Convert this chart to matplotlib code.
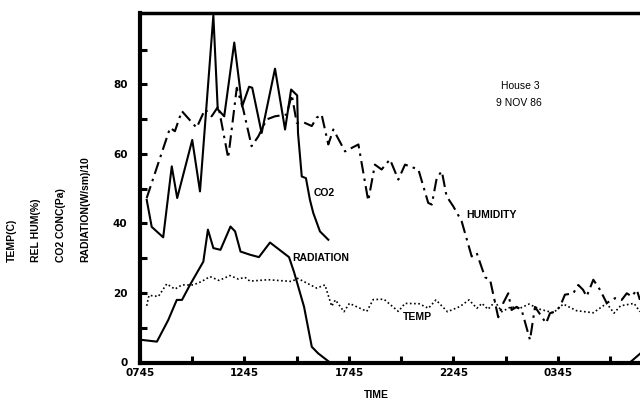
import matplotlib
matplotlib.use("Agg")
import matplotlib.pyplot as plt
import numpy as np

plt.rcParams['font.family'] = ['Liberation Sans', 'DejaVu Sans']

# hours after 07:45
co2_t = [0.32, 0.56, 1.11, 1.52, 1.78, 2.50, 2.87, 3.51, 3.72, 4.03, 4.51, 4.89,
         5.22, 5.37, 5.82, 6.46, 6.94, 7.23, 7.52, 7.56, 7.74, 7.94, 8.13, 8.29,
         8.61, 9.01]
co2_v = [46.8, 39, 36, 56.4, 47.3, 64, 49.2, 99.8, 72.8, 70.8, 92, 73.7,
         79.3, 79, 66, 84.5, 67, 78.5, 76.8, 66, 53.5, 53, 46.8, 43,
         37.7, 35.3]

hum_t = [0.32, 1.44, 1.67, 2.0, 2.71, 3.11, 3.43, 3.75, 4.22, 4.63, 4.94, 5.34,
         5.66, 6.06, 6.46, 7.02, 7.26, 7.50, 7.85, 8.22, 8.45, 8.69, 9.01, 9.25,
         9.81, 10.45, 10.92, 11.24, 11.56, 11.96, 12.36, 12.68, 13.32, 13.79,
         13.96, 14.2, 14.44, 14.67, 14.99, 15.39, 15.87, 16.11, 16.51, 16.75,
         17.14, 17.38, 17.62, 17.78, 18.02, 18.26, 18.66, 18.9, 19.43, 19.62,
         19.86, 20.1, 20.33, 20.73, 20.97, 21.2, 21.37, 21.69, 22.01, 22.33,
         22.73, 23.05, 23.29, 23.53, 23.77, 23.92]
hum_v = [47.3, 67.5, 66.5, 72.3, 67.5, 72.8, 70.8, 73.7, 58.8, 79, 72.8, 62.2,
         65, 69.9, 70.8, 71.3, 77, 68.9, 69, 68, 70.4, 71.3, 62.7, 67,
         60.7, 62.7, 46.5, 56.9, 55.5, 58.4, 52.6, 56.9, 55.5, 45.9,
         45.4, 53.1, 55, 47.8, 44.9, 40.6, 30.5, 31.5, 24.5, 23.8,
         13, 17.1, 19.9, 15.1, 16, 15.1, 6.5, 16, 11.3, 14.2,
         14.6, 16.1, 19.5, 19.9, 22.3, 20.9, 19, 23.8, 20.9, 17.1,
         18.5, 18, 19.9, 19, 20.9, 18]

rad_t = [0.08, 0.81, 1.35, 1.76, 2.01, 2.39, 3.03, 3.25, 3.51, 3.85, 4.33, 4.55,
         4.81, 5.26, 5.69, 6.22, 7.13, 7.37, 7.85, 8.22, 8.53, 9.09, 23.44, 23.92]
rad_v = [6.5, 6, 12.2, 18, 18, 22.3, 29, 38.2, 32.9, 32.4, 39.1, 37.7,
         31.9, 31, 30.3, 34.5, 30.3, 26, 16, 4.5, 2.6, 0, 0, 2.5]

temp_t = [0.32, 0.43, 0.88, 1.28, 1.67, 2.0, 2.55, 2.95, 3.35, 3.78, 4.31, 4.70,
          5.02, 5.26, 6.14, 7.26, 7.54, 8.45, 8.85, 9.17, 9.35, 9.76, 10.02,
          10.85, 11.16, 11.67, 12.36, 12.68, 13.35, 13.8, 14.16, 14.71, 15.31,
          15.74, 16.12, 16.36, 16.65, 16.99, 17.31, 17.75, 18.18, 18.61, 19.14,
          19.78, 20.25, 20.89, 21.69, 22.33, 22.68, 22.99, 23.64, 23.92]
temp_v = [16.3, 19.3, 19, 22.6, 21.1, 22.3, 22.3, 23.3, 24.7, 23.6, 25, 24,
          24.5, 23.4, 23.8, 23.3, 24.2, 21.4, 22.3, 16.2, 18, 14.6, 17,
          14.7, 18.1, 18.2, 14.7, 17, 16.9, 15.6, 18, 14.6, 16.1,
          18, 15.6, 17, 15.3, 17.5, 14.6, 16, 15.6, 16.8, 15.3,
          14.3, 16.8, 14.9, 14.3, 17, 14.2, 16.3, 17, 14.6]

x_ticks = [0, 2.5, 5, 7.5, 10, 12.5, 15, 17.5, 20, 22.5]
x_labels = ['0745', '', '1245', '', '1745', '', '2245', '', '0345', '']
y_ticks = [0, 10, 20, 30, 40, 50, 60, 70, 80, 90]
y_labels = ['0', '', '20', '', '40', '', '60', '', '80', '']

W, H = 640, 401
fig = plt.figure(figsize=(6.4, 4.01), dpi=100)
ax = fig.add_axes([140 / W, (H - 362.5) / H, 501.6 / W, 349.5 / H])

ax.plot(co2_t, co2_v, color='black', lw=1.5, clip_on=False)
ax.plot(hum_t, hum_v, color='black', lw=1.5, linestyle=(0, (6, 2.5, 1.2, 2.5)))
ax.plot(rad_t, rad_v, color='black', lw=1.5)
ax.plot(temp_t, temp_v, color='black', lw=1.2, linestyle=(0, (1, 1.5)))

ax.set_xlim(0, 24)
ax.set_ylim(0, 100.5)
ax.set_xticks(x_ticks)
ax.set_xticklabels(x_labels)
ax.set_yticks(y_ticks)
ax.set_yticklabels(y_labels)
ax.tick_params(direction='in', length=5, width=2.2, labelsize=7.5)
ax.tick_params(axis='x', pad=4)
ax.tick_params(axis='y', pad=9)
for lab in ax.get_xticklabels() + ax.get_yticklabels():
    lab.set_fontweight('bold')
    lab.set_family('DejaVu Sans')

for s in ['left', 'bottom']:
    ax.spines[s].set_linewidth(3)
ax.spines['top'].set_linewidth(2.5)
ax.spines['right'].set_visible(False)

bold = dict(fontsize=7.5, fontweight='bold', color='black')
ax.text(8.3, 48, 'CO2', **bold)
ax.text(15.6, 41.5, 'HUMIDITY', **bold)
ax.text(7.3, 29.3, 'RADIATION', **bold)
ax.text(12.6, 12.2, 'TEMP', **bold)

fig.text(520 / W, 1 - 86 / H, 'House 3', ha='center', va='center', fontsize=7.5)
fig.text(519 / W, 1 - 103 / H, '9 NOV 86', ha='center', va='center', fontsize=7.5)
fig.text(376 / W, 1 - 395 / H, 'TIME', ha='center', va='center', **bold)

ylabels = ['TEMP(C)', 'REL HUM(%)', 'CO2 CONC(Pa)', 'RADIATION(W/sm)/10']
for i, t in enumerate(ylabels):
    fig.text((12 + 24.3 * i) / W, 1 - 262 / H, t, rotation=90, ha='left',
             va='center', rotation_mode='anchor', **bold)

fig.savefig('out.png', dpi=100)
